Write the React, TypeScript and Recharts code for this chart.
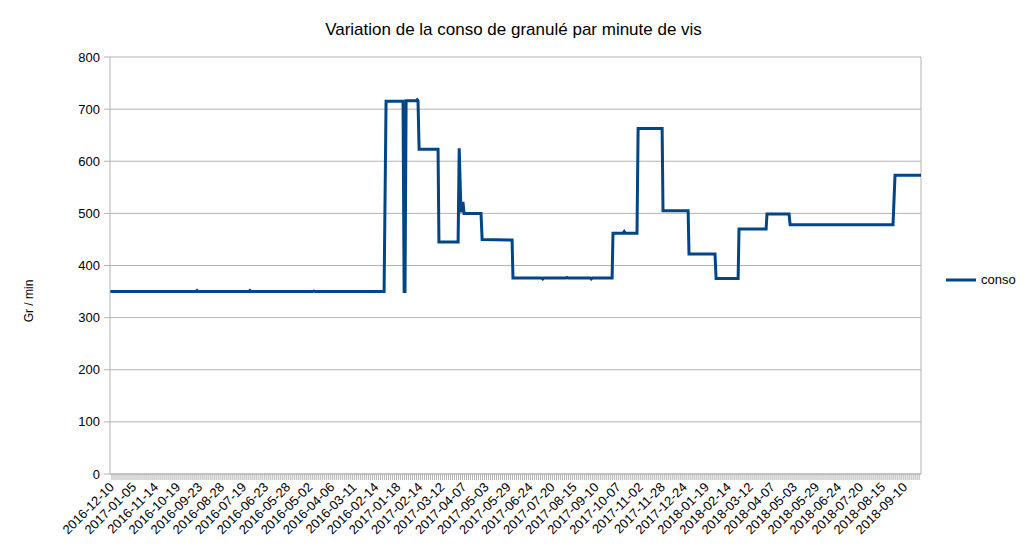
import { CartesianGrid, Legend, Line, LineChart, ReferenceLine, XAxis, YAxis } from "recharts";

// LibreOffice-style defaults: dark blue series, light grey grid.
const SERIES_COLOR = "#004586";
const GRID = "#b3b3b3";
const FONT = "'Liberation Sans', Arial, sans-serif";

const DATE_LABELS = [
  "2016-12-10", "2017-01-05", "2016-11-14", "2016-10-19", "2016-09-23",
  "2016-08-28", "2016-07-19", "2016-06-23", "2016-05-28", "2016-05-02",
  "2016-04-06", "2016-03-11", "2016-02-14", "2017-01-18", "2017-02-14",
  "2017-03-12", "2017-04-07", "2017-05-03", "2017-05-29", "2017-06-24",
  "2017-07-20", "2017-08-15", "2017-09-10", "2017-10-07", "2017-11-02",
  "2017-11-28", "2017-12-24", "2018-01-19", "2018-02-14", "2018-03-12",
  "2018-04-07", "2018-05-03", "2018-05-29", "2018-06-24", "2018-07-20",
  "2018-08-15", "2018-09-10",
];

// position along the date axis, in label steps (label k sits at k)
const POS = [
  -0.09, 3.8, 3.86, 3.92, 6.2, 6.26, 6.32, 9.1, 9.16, 9.22, 12.35,
  12.44, 13.21, 13.26, 13.3, 13.35, 13.8, 13.85, 13.89, 13.94,
  14.8, 14.84, 15.71, 15.76, 15.84, 15.93, 15.98, 16.75, 16.8,
  18.16, 18.2, 19.5, 19.55, 19.6, 20.6, 20.65, 20.7, 21.7, 21.75, 21.8, 22.7,
  22.74, 23.2, 23.25, 23.3, 23.83, 23.88, 24.97, 25.01, 26.15, 26.19,
  27.37, 27.42, 28.42, 28.46, 29.69, 29.73, 30.73, 30.78, 35.45,
  35.54, 36.72,
];
const CONSO = [
  350, 350, 352, 350, 350, 352, 350, 350, 351, 350, 350,
  715, 715, 350, 350, 716, 716, 718, 716, 623,
  623, 445, 445, 625, 502, 522, 500, 500, 450,
  449, 376, 376, 374, 376, 376, 377, 376, 376, 374, 376, 376,
  462, 462, 465, 462, 462, 663, 663, 505, 505, 422,
  422, 375, 375, 470, 470, 499, 499, 478, 478,
  573, 573,
];

const Y_TICKS = [0, 100, 200, 300, 400, 500, 600, 700, 800];
const X_DOMAIN: [number, number] = [-0.09, 36.72];
const MINOR_PER_LABEL = 11;

const data = POS.map((pos, i) => ({ pos, conso: CONSO[i] }));

const minorTicks: number[] = [];
for (let k = 0; k < DATE_LABELS.length; k++) {
  for (let j = 0; j < MINOR_PER_LABEL; j++) {
    const v = k + j / MINOR_PER_LABEL;
    if (v <= X_DOMAIN[1]) minorTicks.push(v);
  }
}

function DateTick(props: any) {
  const { x, y, payload } = props;
  const v = payload.value as number;
  const k = Math.round(v);
  if (Math.abs(v - k) > 1e-6 || !DATE_LABELS[k]) return <g />;
  return (
    <text
      x={x + 3}
      y={y + 6}
      transform={`rotate(-45, ${x + 3}, ${y + 6})`}
      textAnchor="end"
      fontSize={13}
      fontFamily={FONT}
      fill="#000"
    >
      {DATE_LABELS[k]}
    </text>
  );
}

function LegendBox() {
  return (
    <div style={{ display: "flex", alignItems: "center", fontFamily: FONT, fontSize: 13 }}>
      <svg width={30} height={6}>
        <line x1={0} y1={3} x2={30} y2={3} stroke={SERIES_COLOR} strokeWidth={3} />
      </svg>
      <span style={{ marginLeft: 5, color: "#000" }}>conso</span>
    </div>
  );
}

export default function App() {
  return (
    <div style={{ position: "absolute", left: 0, top: 0, width: 1027, height: 559, background: "#fff" }}>
      <div
        style={{
          position: "absolute",
          top: 20,
          width: 1027,
          textAlign: "center",
          fontFamily: FONT,
          fontSize: 17,
          color: "#000",
        }}
      >
        Variation de la conso de granulé par minute de vis
      </div>
      <LineChart
        width={1027}
        height={559}
        data={data}
        margin={{ top: 57, right: 106, bottom: 0, left: 40 }}
      >
        <CartesianGrid horizontal vertical={false} stroke={GRID} strokeDasharray="" />
        <XAxis
          dataKey="pos"
          type="number"
          domain={X_DOMAIN}
          allowDataOverflow
          ticks={minorTicks}
          interval={0}
          tick={<DateTick />}
          tickSize={6}
          tickLine={{ stroke: GRID }}
          axisLine={{ stroke: GRID }}
          height={85}
        />
        <YAxis
          type="number"
          domain={[0, 800]}
          ticks={Y_TICKS}
          interval={0}
          width={70}
          tickSize={6}
          tickMargin={4}
          tickLine={{ stroke: GRID }}
          axisLine={{ stroke: GRID }}
          tick={{ fontSize: 13, fill: "#000", fontFamily: FONT }}
          label={{
            content: () => (
              <text
                x={33}
                y={301}
                transform="rotate(-90, 33, 301)"
                textAnchor="middle"
                fontSize={12}
                fontFamily={FONT}
                fill="#000"
              >
                Gr / min
              </text>
            ),
          }}
        />
        <ReferenceLine x={X_DOMAIN[1]} stroke={GRID} />
        <Legend
          layout="horizontal"
          align="center"
          verticalAlign="middle"
          content={<LegendBox />}
          wrapperStyle={{ position: "absolute", left: 946, top: 272, width: 80 }}
        />
        <Line
          type="linear"
          dataKey="conso"
          stroke={SERIES_COLOR}
          strokeWidth={3}
          dot={false}
          isAnimationActive={false}
        />
      </LineChart>
    </div>
  );
}
